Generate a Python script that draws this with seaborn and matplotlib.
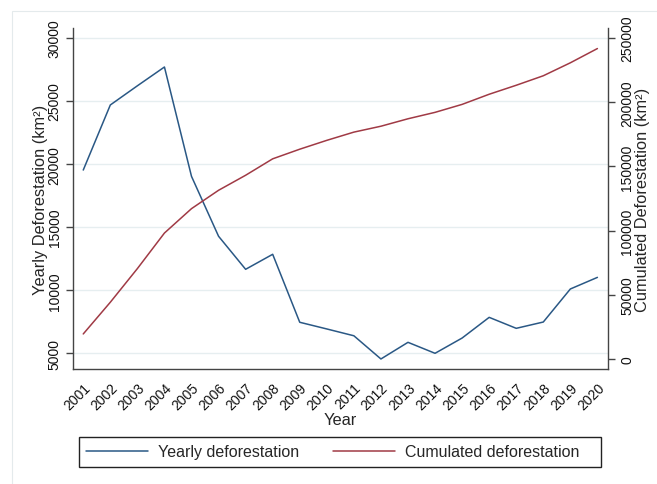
import matplotlib
matplotlib.use("Agg")
import matplotlib.pyplot as plt
import seaborn as sns
import pandas as pd
from matplotlib.patches import Rectangle
from matplotlib.lines import Line2D

years = [2001, 2002, 2003, 2004, 2005, 2006, 2007, 2008, 2009, 2010,
         2011, 2012, 2013, 2014, 2015, 2016, 2017, 2018, 2019, 2020]
yearly = [19530, 24690, 26210, 27700, 19030, 14280, 11660, 12850, 7460, 6930,
          6390, 4550, 5870, 5000, 6210, 7850, 6980, 7480, 10100, 11020]
cumulated = [19500, 44200, 70400, 98100, 117100, 131400, 143100, 155900, 163400, 170300,
             176700, 181300, 187100, 192100, 198300, 206200, 213200, 220600, 230700, 241800]
left_ticks = [5000, 10000, 15000, 20000, 25000, 30000]
right_ticks = [0, 50000, 100000, 150000, 200000, 250000]

df = pd.DataFrame({"Year": years, "Yearly": yearly, "Cumulated": cumulated})

sns.set_style("white")
plt.rcParams["font.family"] = ["Liberation Sans", "DejaVu Sans"]

navy = "#2a5885"
maroon = "#a03a45"
grid_c = "#e6eef0"
spine_c = "#444444"

W, H = 657, 485
fig = plt.figure(figsize=(W / 100, H / 100), dpi=100)
fig.patch.set_facecolor("white")
# faint outer graph-region frame
fig.patches.append(Rectangle((12 / W, -0.1), 1.2, (H - 12) / H + 0.1,
                             transform=fig.transFigure, fill=False,
                             edgecolor="#e4eaec", lw=0.8, zorder=0))

ax = fig.add_axes([72.7 / W, 1 - 370 / H, (607.7 - 72.7) / W, (370 - 29) / H])
ax2 = ax.twinx()

sns.lineplot(data=df, x="Year", y="Yearly", ax=ax, color=navy, lw=1.1)
sns.lineplot(data=df, x="Year", y="Cumulated", ax=ax2, color=maroon, lw=1.1)

ax.set_xlim(2000.61, 2020.38)
ax.set_ylim(3755, 30793)
ax2.set_ylim(-7800, 257800)

ax.set_xticks(years)
ax.set_xticklabels([str(y) for y in years], rotation=45, ha="right",
                   rotation_mode="anchor", fontsize=10)
ax.set_yticks(left_ticks)
ax.set_yticklabels([str(v) for v in left_ticks], rotation=90, va="center", fontsize=10)
ax2.set_yticks(right_ticks)
ax2.set_yticklabels([str(v) for v in right_ticks], rotation=90, va="center", fontsize=10)

for a in (ax, ax2):
    a.spines["top"].set_visible(False)
    for s in ("left", "right", "bottom"):
        a.spines[s].set_color(spine_c)
        a.spines[s].set_linewidth(1.0)
    a.tick_params(colors=spine_c, labelcolor="#111111", length=5, width=1.0, direction="out")
ax2.spines["left"].set_visible(False)
ax.spines["right"].set_visible(False)
ax2.spines["bottom"].set_visible(False)
ax.tick_params(axis="y", pad=3)
ax2.tick_params(axis="y", pad=4)
ax.tick_params(axis="x", pad=3)

ax.grid(axis="y", color=grid_c, lw=1.0)
ax.set_axisbelow(True)

ax.set_xlabel("Year", fontsize=11.8, labelpad=0)
ax.set_ylabel("Yearly Deforestation (km²)", fontsize=11.8, labelpad=0)
ax2.set_ylabel("Cumulated Deforestation (km²)", fontsize=11.8, labelpad=0.5)

# legend (frame drawn separately to match the box extent)
fig.patches.append(Rectangle((79 / W, 1 - 468 / H), (601 - 79) / W, 30 / H,
                             transform=fig.transFigure, fill=False,
                             edgecolor="#222222", lw=1.0, zorder=5))
handles = [Line2D([], [], color=navy, lw=1.1), Line2D([], [], color=maroon, lw=1.1)]
leg = fig.legend(handles, ["Yearly deforestation", "Cumulated deforestation"],
                 ncol=2, loc="center left",
                 bbox_to_anchor=(86 / W, 1 - 453 / H), bbox_transform=fig.transFigure,
                 frameon=False, fontsize=11.5, handlelength=3.9,
                 handletextpad=0.62, borderaxespad=0, borderpad=0, columnspacing=2.1)

fig.savefig("out.png", dpi=100, facecolor="white")
